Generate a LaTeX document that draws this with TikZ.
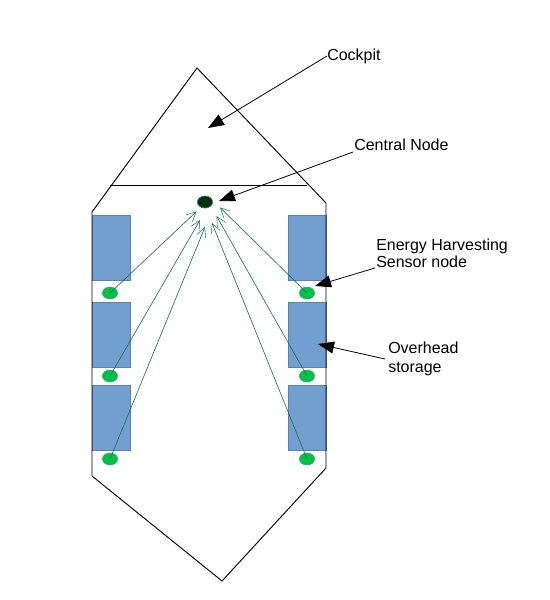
\documentclass[tikz,border=0pt]{standalone}
\usepackage{fontspec}
\setmainfont{Liberation Sans}
\usetikzlibrary{arrows.meta,shapes.geometric}
\definecolor{storefill}{HTML}{729FCF}
\definecolor{storeline}{HTML}{5B82AE}
\definecolor{sensorfill}{HTML}{00C244}
\definecolor{sensorline}{HTML}{4E9A8A}
\definecolor{linkgreen}{HTML}{1B7A4B}
\definecolor{corefill}{HTML}{04320F}
\definecolor{coreline}{HTML}{3B6E94}
\tikzset{
  x=0.75pt,y=-0.75pt,
  hull/.style={draw=black,line width=0.7pt,line join=miter},
  store/.style={draw=storeline,fill=storefill,line width=0.5pt,minimum width=28.5pt,minimum height=48.75pt,inner sep=0pt,outer sep=0pt},
  sensor/.style={ellipse,draw=sensorline,fill=sensorfill,line width=0.4pt,minimum width=11.5pt,minimum height=9pt,inner sep=0pt,outer sep=0pt},
  core/.style={ellipse,draw=coreline,fill=corefill,line width=0.5pt,minimum width=11.5pt,minimum height=9pt,inner sep=0pt},
  link/.style={draw=linkgreen,line width=0.5pt,-{Straight Barb[length=7pt,width=7pt,line width=0.4pt]}},
  callout/.style={draw=black,line width=0.6pt,-{Triangle[length=12pt,width=9pt]}},
  lbl/.style={anchor=west,font=\fontsize{12pt}{13pt}\selectfont,inner sep=0pt,align=left},
  lbltall/.style={lbl,font=\fontsize{12pt}{14pt}\selectfont}
}
\begin{document}
\begin{tikzpicture}
\useasboundingbox (0,0) rectangle (550,600);
% storage
\node[store] (s1) at (111,247.5) {};
\node[store] (s2) at (111,334.5) {};
\node[store] (s3) at (111,417.5) {};
\node[store] (s4) at (307,247.5) {};
\node[store] (s5) at (307,334.5) {};
\node[store] (s6) at (307,417.5) {};
% hull
\coordinate (nose) at (197,68);
\coordinate (ls) at (92,212);
\coordinate (rs) at (326,203);
\coordinate (re) at (326,468);
\coordinate (tail) at (222,581);
\coordinate (le) at (92,476);
\coordinate (ca) at (110,185);
\coordinate (cb) at (307,185);
\draw[hull] (ls) -- (nose) -- (rs) -- (re) -- (tail) -- (le) -- cycle;
\draw[hull] (ca) -- (cb);
% nodes
\node[core] (c) at (205,202) {};
\node[sensor] (a1) at (110,293) {};
\node[sensor] (a2) at (110,376) {};
\node[sensor] (a3) at (110,459) {};
\node[sensor] (b1) at (307,293) {};
\node[sensor] (b2) at (307,376) {};
\node[sensor] (b3) at (307,459) {};
% arrow targets near central node
\coordinate (t1) at (196.5,211.5);
\coordinate (t2) at (200,220);
\coordinate (t3) at (205,227);
\coordinate (t4) at (212,223);
\coordinate (t5) at (216.5,216);
\coordinate (t6) at (220,207.5);
\draw[link] (a1.center) -- (t1);
\draw[link] (a2.center) -- (t2);
\draw[link] (a3.center) -- (t3);
\draw[link] (b3.center) -- (t4);
\draw[link] (b2.center) -- (t5);
\draw[link] (b1.center) -- (t6);
% labels
\node[lbl] (l1) at (327,56) {Cockpit};
\node[lbl] (l2) at (354,145) {Central Node};
\node[lbl] (l3) at (376,253.5) {Energy Harvesting\\Sensor node};
\node[lbltall] (l4) at (388,359) {Overhead\\storage};
\coordinate (cc) at (208,128);
\coordinate (st) at (318,344);
\coordinate (st0) at (385,359);
\coordinate (en0) at (375,268);
\coordinate (cn0) at (353,152);
\coordinate (cp0) at (327,56);
\coordinate (cn) at (219,201);
\coordinate (en) at (315,286);
\draw[callout] (cp0) -- (cc);
\draw[callout] (cn0) -- (cn);
\draw[callout] (en0) -- (en);
\draw[callout] (st0) -- (st);
\end{tikzpicture}
\end{document}
